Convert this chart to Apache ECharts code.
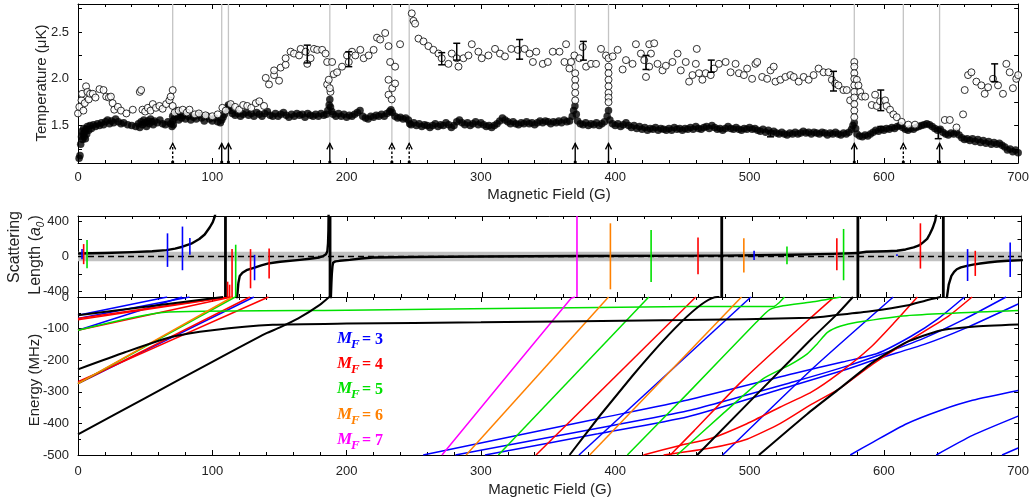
<!DOCTYPE html>
<html><head><meta charset="utf-8">
<script src="https://cdn.jsdelivr.net/npm/echarts@6/dist/echarts.min.js"></script>
<style>html,body{margin:0;padding:0;background:#fff}#c{width:1032px;height:503px}</style>
</head><body><div id="c"></div><script>
// ---------------- DATA ----------------
const fieldTicks = [0,100,200,300,400,500,600,700];
const tempLabels = [1.5,2.0,2.5];
const tempTicks = [1.25,1.5,1.75,2.0,2.25,2.5,2.75];
const scatLabels = [-400,0,400];
const scatTicks = [-400,-200,0,200,400];

// Temperature, filled circles [B (G), T (uK)]
const tempFilled = [[0.8,1.15],[1.5,1.18],[2,1.3],[2.6,1.38],[3,1.44],[3.4,1.35],[3.8,1.41],[4.2,1.47],[4.6,1.38],[5,1.43],[5.5,1.36],[6,1.46],[6.5,1.41],[7,1.49],[8,1.45],[9,1.5],[10,1.47],[11.5,1.51],[13,1.49],[14.5,1.52],[16,1.5],[17.5,1.53],[19,1.51],[20.5,1.54],[22,1.56],[23.5,1.52],[25,1.55],[26.5,1.53],[28,1.57],[30,1.54],[32,1.52],[34,1.53],[37,1.51],[40,1.5],[43,1.49],[45,1.52],[46,1.48],[47,1.54],[48,1.51],[49,1.56],[50,1.53],[51,1.49],[52,1.55],[53,1.52],[54,1.57],[55,1.54],[56,1.51],[57,1.55],[59,1.53],[61,1.56],[63,1.52],[65,1.51],[67,1.54],[69,1.52],[70,1.49],[70.5,1.55],[70.5,1.6],[71,1.51],[72,1.58],[73,1.66],[74,1.6],[75,1.56],[76,1.63],[77,1.58],[78,1.61],[80,1.57],[82,1.6],[84,1.56],[86,1.59],[88,1.57],[90,1.61],[92,1.58],[94,1.55],[96,1.6],[98,1.57],[100,1.55],[102,1.58],[104,1.54],[106,1.53],[107,1.56],[108,1.59],[109,1.62],[110,1.66],[111,1.69],[112,1.72],[113,1.69],[114,1.66],[115,1.63],[117,1.61],[119,1.63],[121,1.6],[123,1.62],[125,1.64],[127,1.61],[129,1.63],[131,1.6],[133,1.64],[135,1.62],[137,1.6],[139,1.63],[141,1.65],[143,1.61],[145,1.6],[147,1.63],[149,1.6],[151,1.62],[153,1.64],[155,1.61],[157,1.59],[159,1.62],[161,1.6],[163,1.63],[165,1.61],[167,1.62],[169,1.59],[171,1.63],[173,1.61],[175,1.6],[177,1.62],[179,1.6],[181,1.63],[183,1.61],[185,1.62],[186,1.66],[187,1.72],[187.5,1.78],[188,1.7],[189,1.65],[190,1.62],[192,1.6],[194,1.63],[196,1.6],[198,1.62],[200,1.59],[202,1.61],[204,1.6],[206,1.62],[208,1.64],[210,1.66],[212,1.6],[214,1.58],[216,1.57],[218,1.6],[220,1.59],[222,1.61],[224,1.6],[226,1.62],[228,1.6],[230,1.63],[232,1.65],[233,1.67],[234,1.64],[236,1.6],[238,1.58],[240,1.59],[242,1.57],[244,1.58],[246,1.56],[247,1.52],[248,1.51],[250,1.53],[252,1.5],[254,1.52],[256,1.49],[258,1.51],[260,1.5],[262,1.48],[264,1.5],[266,1.52],[268,1.49],[270,1.51],[272,1.5],[274,1.53],[276,1.51],[278,1.48],[280,1.5],[282,1.54],[284,1.56],[286,1.53],[288,1.51],[290,1.53],[292,1.5],[294,1.52],[296,1.54],[298,1.51],[300,1.53],[302,1.51],[304,1.49],[306,1.5],[308,1.48],[310,1.5],[312,1.52],[314,1.55],[316,1.58],[318,1.56],[320,1.54],[322,1.52],[324,1.54],[326,1.52],[328,1.51],[330,1.53],[332,1.52],[334,1.54],[336,1.52],[338,1.53],[340,1.51],[342,1.53],[344,1.55],[346,1.53],[348,1.55],[350,1.54],[352,1.52],[354,1.54],[356,1.53],[358,1.55],[360,1.53],[362,1.56],[364,1.54],[366,1.55],[368,1.6],[369,1.66],[370,1.71],[371,1.62],[372,1.55],[374,1.52],[376,1.51],[378,1.53],[380,1.5],[382,1.52],[384,1.51],[386,1.53],[388,1.5],[390,1.52],[392,1.54],[394,1.6],[395,1.66],[396,1.56],[398,1.52],[400,1.5],[402,1.52],[404,1.49],[406,1.51],[408,1.53],[410,1.5],[412,1.48],[414,1.5],[416,1.47],[418,1.49],[420,1.46],[422,1.48],[424,1.45],[426,1.47],[428,1.46],[430,1.48],[432,1.45],[434,1.47],[436,1.46],[438,1.45],[440,1.47],[442,1.45],[444,1.48],[446,1.46],[448,1.47],[450,1.45],[452,1.47],[454,1.46],[456,1.48],[458,1.46],[460,1.49],[462,1.47],[464,1.46],[466,1.48],[468,1.49],[470,1.47],[472,1.5],[474,1.48],[476,1.46],[478,1.47],[480,1.45],[482,1.47],[484,1.49],[486,1.47],[488,1.46],[490,1.48],[492,1.46],[494,1.45],[496,1.47],[498,1.46],[500,1.48],[502,1.46],[504,1.47],[506,1.45],[508,1.44],[510,1.46],[512,1.43],[514,1.45],[516,1.42],[518,1.44],[520,1.42],[522,1.41],[524,1.43],[526,1.41],[528,1.4],[530,1.42],[532,1.41],[534,1.43],[536,1.41],[538,1.42],[540,1.44],[542,1.42],[544,1.43],[546,1.41],[548,1.43],[550,1.42],[552,1.41],[554,1.43],[556,1.42],[558,1.4],[560,1.42],[562,1.41],[564,1.43],[566,1.41],[568,1.4],[570,1.42],[572,1.41],[574,1.43],[576,1.46],[577,1.5],[578,1.53],[579,1.47],[580,1.41],[582,1.39],[584,1.38],[586,1.4],[588,1.39],[590,1.41],[592,1.43],[594,1.45],[596,1.44],[598,1.46],[600,1.45],[602,1.47],[604,1.46],[606,1.48],[608,1.47],[610,1.49],[612,1.5],[614,1.48],[616,1.46],[618,1.45],[620,1.47],[622,1.46],[624,1.48],[626,1.49],[628,1.5],[630,1.51],[632,1.52],[634,1.51],[636,1.49],[638,1.47],[640,1.45],[642,1.46],[644,1.43],[646,1.41],[648,1.4],[650,1.42],[652,1.41],[654,1.43],[656,1.4],[658,1.37],[660,1.35],[662,1.36],[664,1.34],[666,1.36],[668,1.33],[670,1.35],[672,1.32],[674,1.34],[676,1.31],[678,1.33],[680,1.3],[682,1.32],[684,1.3],[686,1.31],[688,1.29],[690,1.27],[692,1.24],[694,1.25],[696,1.22],[698,1.24],[700,1.21]];

// Temperature, open circles [B (G), T (uK)]
const tempOpen = [[0,1.63],[1,1.7],[2.6,1.77],[3,1.84],[4,1.66],[5,1.74],[6,1.92],[7,1.86],[8,1.78],[9,1.84],[11,1.84],[13,1.8],[16,1.89],[19,1.88],[21,1.81],[23,1.8],[24.5,1.81],[25.8,1.74],[27,1.67],[29.7,1.7],[32,1.66],[36,1.63],[40.8,1.67],[46,1.86],[47,1.88],[48,1.67],[50,1.65],[52,1.69],[54,1.66],[55.7,1.73],[58,1.69],[60.6,1.71],[63,1.68],[65.6,1.73],[68,1.77],[69,1.81],[70.5,1.88],[70.5,1.71],[72,1.64],[75,1.66],[78,1.67],[81,1.64],[83,1.67],[87,1.62],[90,1.63],[95,1.61],[100,1.6],[104,1.62],[107.5,1.69],[110,1.66],[113.7,1.73],[117,1.7],[120,1.67],[123,1.72],[126,1.71],[129,1.69],[132.4,1.74],[135,1.76],[138.5,1.71],[139.8,2.01],[142.2,1.94],[146,2.04],[146,2.09],[149.7,1.98],[150.9,2.12],[154.6,2.15],[154.6,2.22],[158.3,2.29],[160.8,2.27],[164.6,2.25],[165.8,2.32],[169.5,2.29],[170.7,2.16],[173.2,2.22],[175.7,2.32],[178.1,2.31],[181.8,2.31],[184.3,2.27],[185.5,2.18],[185.5,1.94],[186.7,1.99],[188,1.86],[187.5,1.9],[189.2,2.18],[190.4,2.05],[192.9,2.07],[196.6,2.13],[200.3,2.25],[201.6,2.18],[204,2.29],[206.5,2.25],[210.2,2.31],[212.7,2.22],[216.4,2.25],[220.1,2.31],[222.6,2.44],[225,2.42],[228.7,2.49],[231.2,2.35],[232.4,2.18],[231.2,1.99],[231.2,1.83],[233.6,1.78],[234,1.9],[236.1,2.13],[236.1,1.95],[239.8,2.37],[248.5,2.7],[249.8,2.62],[251,2.59],[253.5,2.43],[257.2,2.4],[260.9,2.35],[264.6,2.31],[268.4,2.27],[270.8,2.22],[275.8,2.16],[278.3,2.27],[282,2.22],[283.3,2.13],[287,2.22],[290.7,2.25],[293.2,2.37],[298.1,2.29],[300.6,2.22],[305.6,2.25],[310.5,2.32],[314.2,2.27],[317.9,2.24],[322.6,2.32],[327.5,2.31],[332.5,2.32],[336.2,2.27],[338.7,2.18],[341.2,2.29],[346.1,2.16],[349.8,2.18],[353.5,2.29],[358.5,2.29],[362.2,2.18],[363.4,2.37],[365.9,2.11],[367.1,2.18],[369.6,2.25],[370.2,2.06],[370.2,1.99],[370.2,1.92],[370.2,1.85],[370.2,1.77],[373.3,2.22],[375.8,2.34],[378.3,2.13],[382,2.16],[385.7,2.16],[389.4,2.32],[393.1,2.25],[395,2.22],[395,2.13],[395,2.06],[395,1.99],[395,1.92],[395,1.85],[395,1.8],[395,1.75],[398.1,2.24],[401.8,2.31],[405.5,2.1],[408,2.2],[412.9,2.16],[415.4,2.37],[419.1,2.27],[421.6,2.2],[422.9,2.02],[425.3,2.13],[425.3,2.37],[426.6,2.27],[429,2.38],[431.5,2.16],[435.2,2.09],[437.7,2.14],[442.6,2.18],[446.4,2.27],[448.8,2.09],[452.5,2.18],[455,1.97],[457.5,2.04],[460,2.16],[460.7,2.32],[462.4,2.06],[464.9,1.99],[467.4,2.06],[471.1,2.04],[473.5,2.11],[477.2,2.16],[482.2,2.18],[485.9,2.07],[489.6,2.16],[492.1,2.06],[495.8,2.04],[498.2,2.11],[501.9,2.0],[504.4,2.16],[505.7,2.18],[509.4,2.02],[513.1,2.0],[515.6,2.09],[518,2.13],[519.3,1.97],[523,1.99],[526.7,2.02],[530.4,2.04],[532.9,2.02],[536.6,1.97],[540.3,2.02],[544,1.99],[547.7,2.04],[551.4,2.11],[555.1,2.07],[558.8,2.07],[561.3,1.99],[563.8,1.95],[566.2,1.93],[569.9,1.88],[572.4,1.88],[574.9,1.77],[578,2.18],[578,2.13],[578,2.06],[578,2.0],[578,1.93],[578,1.86],[578,1.8],[578,1.73],[578,1.66],[578,1.59],[579.9,1.99],[581.1,1.93],[582.4,1.86],[583.6,1.81],[586.1,1.81],[591,1.72],[593.5,1.83],[594.7,1.71],[597.2,1.76],[600.9,1.77],[602.1,1.71],[604.6,1.67],[607.1,1.62],[609.6,1.59],[613.3,1.54],[618.2,1.51],[623.2,1.51],[645.4,1.56],[649.1,1.56],[654.1,1.48],[659,1.62],[660.2,1.88],[662.7,2.04],[665.2,2.07],[668.9,1.97],[672.6,1.93],[675.1,1.84],[677.6,1.91],[681.3,2.0],[685,1.93],[688.7,1.84],[691.2,2.16],[693.7,2.07],[696.1,1.9],[698.6,2.0],[700,2.04]];

// Error bars [B, low, high]
const tempErrors = [[170.7,2.17,2.36],[201.6,2.13,2.29],[270.8,2.15,2.28],[282,2.2,2.38],[328.8,2.21,2.42],[376.3,2.2,2.4],[422.9,2.1,2.25],[471.5,2.07,2.2],[562.5,1.87,2.08],[597.7,1.66,1.88],[682.5,1.97,2.16],[515.6,1.38,1.44],[597.7,1.45,1.49],[640.5,1.36,1.47]];

// Loss features (G): solid arrows and dashed arrows
const featSolid = [107,112,187.5,370.2,395,578,641.5];
const featDashed = [70.5,233.7,246.6,614.5];
const arrowTipT = 1.31;

// Scattering length curve segments [B, a (a0)]
const scatCurve = [
  [[0,34],[20,40],[40,50],[55,60],[65.6,73],[72,90],[77.5,111],[84,145],[90,199],[94,250],[97.8,332],[100,390],[101.5,454],[103,600]],
  [[117.5,-600],[118,-470],[119,-300],[120,-221],[122,-185],[125,-156],[128,-140],[131,-126],[136,-100],[142,-76],[150,-60],[164.6,-38],[172,-25],[179,-11],[182,5],[184,25],[185,60],[185.5,150],[185.8,300],[186,600]],
  [[187.4,-600],[187.6,-470],[188,-300],[188.3,-200],[188.8,-110],[189.3,-69],[191,-56],[194,-49],[201.6,-38],[210,-22],[219,-11],[250,-5],[300,0],[370,5],[478,10],[530,20],[560,30],[578.6,40]],
  [[578.6,40],[585,54],[600,60],[607.6,65],[614,80],[620,103],[624,125],[627,160],[630,200],[632,256],[634,320],[636,408],[638,600]],
  [[644.3,-600],[644.6,-470],[646,-320],[648,-221],[650,-175],[652,-145],[655,-124],[659.5,-106],[664,-92],[669.3,-80],[675,-68],[681.8,-57],[690,-49],[701,-41]]
];
const bgBand = [55,-55];
const broadRes = [109.4,187,477.6,578.6,642];
// Narrow resonance markers [B, top, bottom] per M_F
const resMF3 = [[3,84,-30],[66.4,263,-118],[77.5,340,-156],[83,210,19],[131,19,-270],[501.6,65,-41],[607.6,25,5],[660,84,-278],[691.6,160,-232]];
const resMF4 = [[4.2,141,-87],[111,-286,-470],[112.5,-320,-470],[114.3,84,-470],[128,84,-361],[141.8,91,-251],[460,217,-201],[563,206,-156],[625,377,-137],[665.7,65,-221]];
const resMF5 = [[6.7,187,-133],[117,134,-470],[425.2,302,-289],[526,114,-87],[568,313,-270]];
const resMF6 = [[395,377,-373],[494,206,-183]];
const resMF7 = [[370.2,470,-470]];

// Molecular energy levels [B, E (MHz)]
const levMF3 = [
  [[0,-58],[66.4,0]],[[0,-105],[77.5,0]],[[0,-68],[83,0]],[[0,-274],[131,0]],
  [[257,-500],[387,-385],[454,-326],[533,-242],[570,-205],[595,-179],[620,-125],[640,-70],[660,0]],
  [[281,-500],[387,-415],[454,-360],[533,-268],[570,-222],[595,-186],[630,-130],[660,-70],[691,0]],
  [[303,-500],[387,-433],[454,-379],[533,-279],[570,-232],[595,-196],[630,-150],[660,-100],[700,-22]],
  [[373,-500],[501,0]],
  [[480,-500],[546,-230],[607,0]],
  [[575,-500],[592,-459],[617,-401],[642,-359],[666,-327],[700,-296]],
  [[639,-500],[666,-438],[700,-377]],
  [[688,-500],[700,-478]]
];
const levMF4 = [
  [[0,-68],[111,0]],[[0,-72],[112.5,0]],[[0,-105],[114.3,0]],[[0,-274],[128,0]],[[0,-268],[141.8,0]],
  [[341,-500],[460,0]],
  [[441,-500],[459,-422],[496,-259],[546,-64],[563,0]],
  [[421,-500],[449,-469],[471,-448],[498,-401],[523,-348],[546,-301],[567,-240],[590,-160],[608,-80],[625,0]],
  [[436,-500],[471,-478],[498,-450],[523,-400],[546,-340],[567,-290],[592,-212],[617,-143],[647,-64],[665.7,0]]
];
const levMF5 = [
  [[0,-105],[65,-48],[200,-42],[387,-33],[454,-30],[518,-30],[522,-18],[526,0]],
  [[0,-274],[117,0]],
  [[313,-500],[425,0]],
  [[409,-500],[454,-305],[505,-80],[515,-40],[525,-28],[546,-16],[568,0]],
  [[446,-500],[480,-370],[510,-259],[530,-215],[543,-180],[550,-150],[558,-112],[568,-92],[580,-80],[617,-59],[700,-43]]
];
const levMF6 = [[[0,-274],[115,0]],[[289,-500],[395,0]],[[381,-500],[494,0]]];
const levMF7 = [[[271,-500],[367,-5],[370,0]]];
const levBlack = [
  [[0,-58],[108,0]],
  [[0,-229],[35,-175],[70,-126],[100,-105],[145,-88],[200,-84],[300,-80],[450,-73],[545,-66],[565,-57],[590,-45],[617,-27],[632,-10],[642,0]],
  [[0,-435],[50,-320],[100,-205],[140,-115],[150,-97],[164,-68],[180,-25],[187,0]],
  [[366,-500],[476,0],[477.6,0]],
  [[461,-500],[546,-133],[565,-55],[577,0]],
  [[507,-500],[543,-370],[567,-290],[592,-206],[617,-143],[642,-106],[666,-94],[700,-87]]
];
const mfLabels = ['3','4','5','6','7'];

// ---------------- CHART ----------------
const FONT = 'Liberation Sans, Arial, Helvetica, sans-serif';
const SERIF = 'Liberation Serif, Times New Roman, serif';
const COL = {mf3:'#0000ff', mf4:'#ff0000', mf5:'#00e000', mf6:'#ff8000', mf7:'#ff00ff'};
const chart = echarts.init(document.getElementById('c'), null, {renderer:'canvas'});

function xAx(grid, pos, labels) {
  return {type:'value', gridIndex:grid, position:pos, min:0, max:700, interval:100,
    axisLine:{show:true, onZero:false, lineStyle:{color:'#000', width:1}},
    axisTick:{show:true, inside:true, length:5, lineStyle:{color:'#000', width:1}},
    minorTick:{show:true, splitNumber:5, length:3, lineStyle:{color:'#000', width:1}},
    splitLine:{show:false}, minorSplitLine:{show:false},
    axisLabel:{show:!!labels, fontSize:13, color:'#222', fontFamily:FONT, margin:labels===2?10:8}};
}
function yAxCustom(grid, pos, min, max, labVals, tickVals, fmt, labels) {
  return {type:'value', gridIndex:grid, position:pos, min:min, max:max,
    axisLine:{show:true, onZero:false, lineStyle:{color:'#000', width:1}},
    axisTick:{show:true, inside:true, length:4, customValues:tickVals, lineStyle:{color:'#000'}},
    splitLine:{show:false},
    axisLabel:{show:labels, customValues:labVals, formatter:fmt, fontSize:13, color:'#222', fontFamily:FONT, margin:9}};
}
function yAxE(grid, pos, labels) {
  return {type:'value', gridIndex:grid, position:pos, min:-500, max:0, interval:100,
    axisLine:{show:true, onZero:false, lineStyle:{color:'#000', width:1}},
    axisTick:{show:true, inside:true, length:4, lineStyle:{color:'#000'}},
    minorTick:{show:true, splitNumber:2, length:3, lineStyle:{color:'#000'}},
    splitLine:{show:false}, minorSplitLine:{show:false},
    axisLabel:{show:labels, fontSize:13, color:'#222', fontFamily:FONT, margin:9}};
}

const series = [];
// --- top panel ---
const featAll = featDashed.concat(featSolid);
series.push({type:'custom', xAxisIndex:0, yAxisIndex:0, z:1, silent:true,
  data: featAll.map(b => [b, arrowTipT, 2.8]),
  renderItem:(p, api) => {
    const a = api.coord([api.value(0), api.value(1)]), b = api.coord([api.value(0), api.value(2)]);
    return {type:'line', shape:{x1:a[0], y1:a[1], x2:b[0], y2:b[1]}, style:{stroke:'#c4c4c4', lineWidth:1.3}};
  }});
function arrowSeries(list, dashed) {
  return {type:'custom', xAxisIndex:0, yAxisIndex:0, z:6, silent:true,
    data: list.map(b => [b, 1.1, arrowTipT]),
    renderItem:(p, api) => {
      const a = api.coord([api.value(0), api.value(1)]), t = api.coord([api.value(0), api.value(2)]);
      return {type:'group', children:[
        {type:'line', shape:{x1:a[0], y1:a[1], x2:t[0], y2:t[1]}, style:{stroke:'#000', lineWidth:1.4, lineDash: dashed ? [2.5,2] : null}},
        {type:'polyline', shape:{points:[[t[0]-3, t[1]+6],[t[0], t[1]],[t[0]+3, t[1]+6]]}, style:{stroke:'#000', lineWidth:1.3, fill:null}},
        {type:'circle', shape:{cx:a[0], cy:a[1]-1, r:1.6}, style:{fill:'#000'}}
      ]};
    }};
}
series.push(arrowSeries(featSolid, false));
series.push(arrowSeries(featDashed, true));
series.push({type:'scatter', xAxisIndex:0, yAxisIndex:0, z:3, data: tempFilled, symbol:'circle', symbolSize:7.5,
  itemStyle:{color:'#000'}, silent:true});
series.push({type:'scatter', xAxisIndex:0, yAxisIndex:0, z:4, data: tempOpen, symbol:'circle', symbolSize:7,
  itemStyle:{color:'#fff', borderColor:'#000', borderWidth:1}, silent:true});
series.push({type:'custom', xAxisIndex:0, yAxisIndex:0, z:5, silent:true, data: tempErrors,
  renderItem:(p, api) => {
    const lo = api.coord([api.value(0), api.value(1)]), hi = api.coord([api.value(0), api.value(2)]);
    const x = lo[0];
    return {type:'group', children:[
      {type:'line', shape:{x1:x, y1:lo[1], x2:x, y2:hi[1]}, style:{stroke:'#000', lineWidth:1.5}},
      {type:'line', shape:{x1:x-3.5, y1:lo[1], x2:x+3.5, y2:lo[1]}, style:{stroke:'#000', lineWidth:1.5}},
      {type:'line', shape:{x1:x-3.5, y1:hi[1], x2:x+3.5, y2:hi[1]}, style:{stroke:'#000', lineWidth:1.5}}
    ]};
  }});

// --- middle panel ---
series.push({type:'custom', xAxisIndex:2, yAxisIndex:2, z:1, silent:true, data:[[0, bgBand[0], 700, bgBand[1]]],
  renderItem:(p, api) => {
    const a = api.coord([api.value(0), api.value(1)]), b = api.coord([api.value(2), api.value(3)]);
    return {type:'rect', shape:{x:a[0], y:a[1], width:b[0]-a[0], height:b[1]-a[1]}, style:{fill:'#c2c2c2'}};
  }});
series.push({type:'line', xAxisIndex:2, yAxisIndex:2, z:2, silent:true, data:[[0,0],[700,0]], showSymbol:false,
  lineStyle:{color:'#000', width:1.5, type:[6,4]}});
scatCurve.forEach(seg => series.push({type:'line', xAxisIndex:2, yAxisIndex:2, z:3, silent:true, data:seg, showSymbol:false,
  smooth:false, lineStyle:{color:'#000', width:2.4, join:'round'}, clip:true}));
series.push({type:'custom', xAxisIndex:2, yAxisIndex:2, z:4, silent:true, data: broadRes.map(b => [b, 460, -460]),
  renderItem:(p, api) => {
    const a = api.coord([api.value(0), api.value(1)]), b = api.coord([api.value(0), api.value(2)]);
    return {type:'line', shape:{x1:a[0], y1:a[1], x2:b[0], y2:b[1]}, style:{stroke:'#000', lineWidth:2.8}};
  }});
function resSeries(list, color) {
  return {type:'custom', xAxisIndex:2, yAxisIndex:2, z:5, silent:true,
    data: list.map(r => [r[0], Math.min(r[1], 460), Math.max(r[2], -460)]),
    renderItem:(p, api) => {
      const a = api.coord([api.value(0), api.value(1)]), b = api.coord([api.value(0), api.value(2)]);
      return {type:'line', shape:{x1:a[0], y1:a[1], x2:b[0], y2:b[1]}, style:{stroke:color, lineWidth:1.6}};
    }};
}
series.push(resSeries(resMF3, COL.mf3));
series.push(resSeries(resMF4, COL.mf4));
series.push(resSeries(resMF5, COL.mf5));
series.push(resSeries(resMF6, COL.mf6));
series.push(resSeries(resMF7, COL.mf7));

// --- bottom panel ---
function levSeries(list, color, w, z) {
  list.forEach(seg => series.push({type:'line', xAxisIndex:4, yAxisIndex:4, z:z, silent:true, data:seg,
    showSymbol:false, smooth:0.2, clip:true, lineStyle:{color:color, width:w}}));
}
levSeries(levMF3, COL.mf3, 1.5, 3);
levSeries(levMF4, COL.mf4, 1.5, 3);
levSeries(levMF5, COL.mf5, 1.5, 3);
levSeries(levMF6, COL.mf6, 1.5, 3);
levSeries(levMF7, COL.mf7, 1.5, 3);
levSeries(levBlack, '#000', 2, 4);

// --- texts ---
const graphic = [
  {type:'text', x:42, y:83, rotation:Math.PI/2, style:{text:'Temperature (μK)', font:'15px ' + FONT, fill:'#222', align:'center', verticalAlign:'middle'}},
  {type:'text', x:549, y:195, style:{text:'Magnetic Field (G)', font:'15px ' + FONT, fill:'#222', align:'center', verticalAlign:'middle'}},
  {type:'text', x:550, y:490, style:{text:'Magnetic Field (G)', font:'15px ' + FONT, fill:'#222', align:'center', verticalAlign:'middle'}},
  {type:'text', x:15, y:247, rotation:Math.PI/2, style:{text:'Scattering', font:'16px ' + FONT, fill:'#222', align:'center', verticalAlign:'middle'}},
  {type:'text', x:36, y:255, rotation:Math.PI/2, style:{text:'{n|Length (}{i|a}{s|0}{n|)}', align:'center', verticalAlign:'middle',
    rich:{n:{font:'16px ' + FONT, fill:'#222', lineHeight:20, verticalAlign:'middle'}, i:{font:'italic 16px ' + FONT, fill:'#222', lineHeight:20, verticalAlign:'middle'}, s:{font:'italic 10px ' + FONT, fill:'#222', lineHeight:20, verticalAlign:'bottom', padding:[0,1,0,0]}}}},
  {type:'text', x:35, y:380, rotation:Math.PI/2, style:{text:'Energy (MHz)', font:'15px ' + FONT, fill:'#222', align:'center', verticalAlign:'middle'}}
];
const mfCols = [COL.mf3, COL.mf4, COL.mf5, COL.mf6, COL.mf7];
mfLabels.forEach((m, i) => {
  const y = 338.5 + i * 25.3;
  graphic.push({type:'text', x:337, y:y, style:{text:'M', font:'italic bold 17px ' + SERIF, fill:mfCols[i], verticalAlign:'middle'}});
  graphic.push({type:'text', x:351, y:y+6, style:{text:'F', font:'italic bold 13px ' + SERIF, fill:mfCols[i], verticalAlign:'middle'}});
  graphic.push({type:'text', x:362, y:y+1, style:{text:'= ' + m, font:'bold 16px ' + SERIF, fill:mfCols[i], verticalAlign:'middle'}});
});

chart.setOption({
  animation:false,
  backgroundColor:'#fff',
  grid:[
    {left:78, right:10.5, top:4, height:159},
    {left:78, right:10.5, top:216, height:81},
    {left:78, right:10.5, top:297, height:158}
  ],
  xAxis:[xAx(0,'bottom',true), xAx(0,'top',false), xAx(1,'bottom',false), xAx(1,'top',false), xAx(2,'bottom',2), xAx(2,'top',false)],
  yAxis:[
    yAxCustom(0,'left',1.1,2.8,tempLabels,tempTicks,v => v.toFixed(1),true),
    yAxCustom(0,'right',1.1,2.8,tempLabels,tempTicks,v => v.toFixed(1),false),
    yAxCustom(1,'left',-460,460,scatLabels,scatTicks,v => String(v),true),
    yAxCustom(1,'right',-460,460,scatLabels,scatTicks,v => String(v),false),
    yAxE(2,'left',true), yAxE(2,'right',false)
  ],
  series: series,
  graphic: graphic
});
</script></body></html>
